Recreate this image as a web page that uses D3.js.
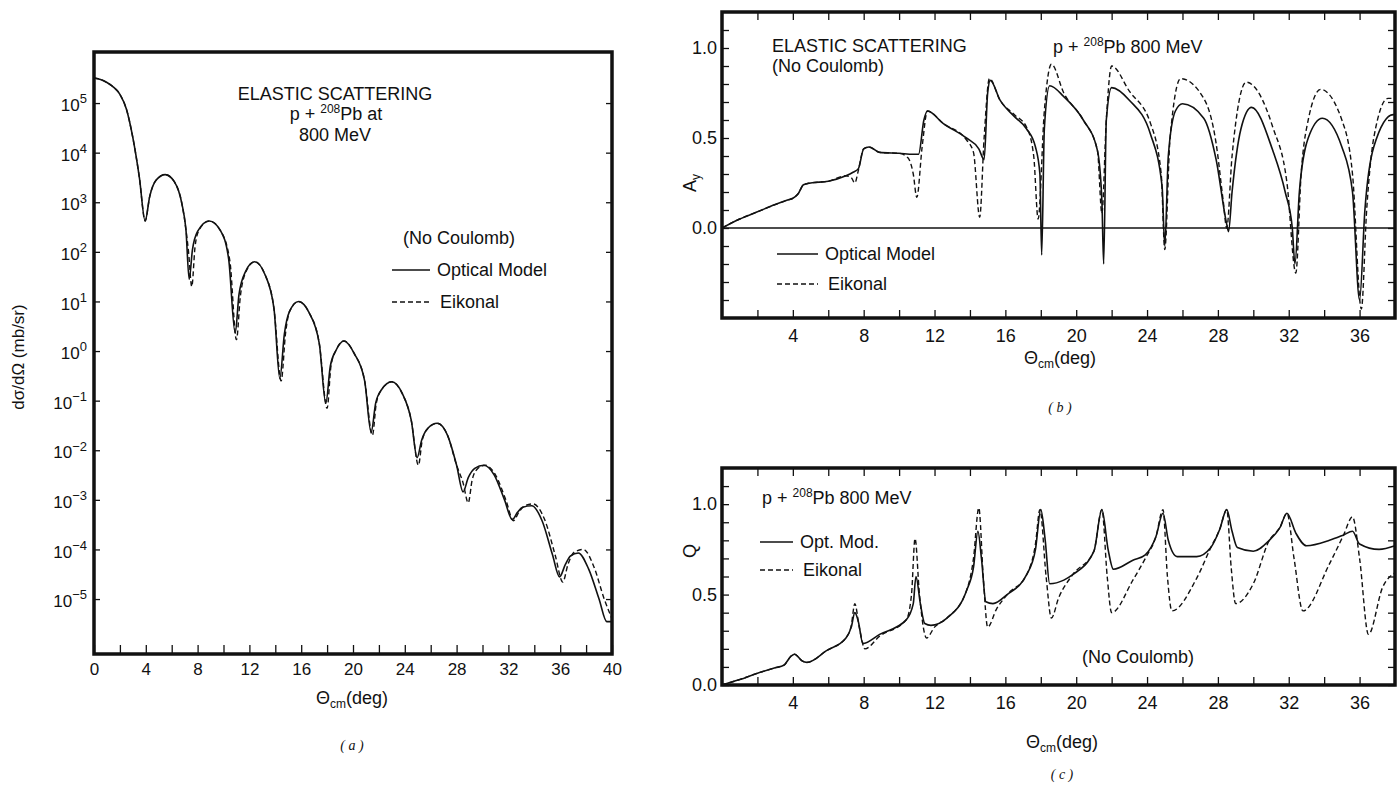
<!DOCTYPE html>
<html>
<head>
<meta charset="utf-8">
<script src="https://cdn.jsdelivr.net/npm/d3@7"></script>
<style>
body { margin: 0; background: #fff; }
svg text { font-family: "Liberation Sans", Arial, sans-serif; fill: #111; }
</style>
</head>
<body>
<svg id="chart" width="1399" height="789"></svg>
<script>
// ---- data ----
// (a) elastic cross section dσ/dΩ (mb/sr) vs θcm (deg)
const sigmaOptical = [
[0,3.2e5],[0.5,3.0e5],[1,2.6e5],[1.5,2.1e5],[2,1.5e5],[2.5,7.6e4],[3,2.0e4],[3.5,3.2e3],[3.95,4.2e2],
[4.3,1.3e3],[4.8,2.8e3],[5.5,3.6e3],[6.2,2.6e3],[6.8,9.0e2],[7.1,2.8e2],[7.35,28],[7.6,110],[8,260],
[8.9,420],[9.8,260],[10.4,71],[10.9,2.3],[11.2,14],[11.7,40],[12.4,63],[13.2,35],[13.9,7.1],[14.35,0.28],
[14.7,2.2],[15.1,6.3],[15.8,10],[16.6,6.0],[17.4,1.4],[17.9,0.089],[18.25,0.5],[18.7,1.05],[19.3,1.6],
[20.1,0.89],[20.9,0.25],[21.4,0.023],[21.75,0.089],[22.2,0.166],[23,0.24],[23.8,0.14],[24.5,0.04],
[24.95,7.1e-3],[25.3,0.016],[25.8,0.028],[26.5,0.035],[27.3,0.02],[28,5.0e-3],[28.5,1.45e-3],[28.9,2.8e-3],
[29.4,4.3e-3],[30.1,5.0e-3],[30.9,3.2e-3],[31.7,1.0e-3],[32.3,4.0e-4],[32.7,5.6e-4],[33.1,7.1e-4],
[33.8,7.6e-4],[34.6,3.8e-4],[35.4,7.9e-5],[35.95,2.8e-5],[36.4,5.0e-5],[36.8,7.4e-5],[37.4,8.5e-5],
[38.2,4.0e-5],[39,1.0e-5],[39.6,3.5e-6],[40,3.5e-6]
];
const sigmaEikonal = [
[0,3.2e5],[0.5,3.0e5],[1,2.6e5],[1.5,2.1e5],[2,1.5e5],[2.5,7.6e4],[3,2.0e4],[3.5,3.2e3],[3.95,4.2e2],
[4.3,1.3e3],[4.8,2.8e3],[5.5,3.6e3],[6.2,2.6e3],[6.8,9.0e2],[7.1,2.8e2],[7.3,100],[7.55,20],[7.8,125],[8.1,270],
[8.9,420],[9.8,260],[10.5,63],[11.0,1.7],[11.3,12.6],[11.7,38],[12.4,63],[13.2,35],[13.9,7.1],[14.45,0.25],
[14.8,2.4],[15.1,6.3],[15.8,10],[16.6,6.0],[17.4,1.4],[18.0,0.07],[18.3,0.5],[18.7,1.05],[19.3,1.6],
[20.1,0.89],[20.9,0.25],[21.5,0.02],[21.8,0.089],[22.2,0.166],[23,0.24],[23.8,0.14],[24.5,0.04],
[25.05,5.0e-3],[25.35,0.016],[25.8,0.028],[26.5,0.035],[27.3,0.02],[28,5.0e-3],[28.5,2.2e-3],[28.9,8.7e-4],
[29.2,2.5e-3],[29.6,4.2e-3],[30.2,5.0e-3],[31.0,3.2e-3],[31.8,1.0e-3],[32.4,3.8e-4],[32.8,5.6e-4],[33.2,7.4e-4],
[33.9,8.3e-4],[34.8,4.0e-4],[35.6,7.9e-5],[36.2,2.2e-5],[36.6,5.0e-5],[37.1,8.9e-5],[37.8,1.0e-4],
[38.6,4.5e-5],[39.4,1.0e-5],[40,4.0e-6]
];
const thetaTicksA = [0,4,8,12,16,20,24,28,32,36,40];
const sigmaTicks = [1e5,1e4,1e3,1e2,1e1,1e0,1e-1,1e-2,1e-3,1e-4,1e-5];

// (b) analysing power Ay vs θcm (deg)
const ayOptical = [
[0,0],[1,0.05],[2,0.09],[3,0.13],[3.7,0.155],[4,0.165],[4.3,0.19],[4.6,0.24],[5,0.25],[6,0.26],[7,0.29],
[7.4,0.31],[7.7,0.33],[8,0.44],[8.3,0.45],[8.9,0.42],[10,0.415],[10.8,0.41],[11.1,0.41],[11.4,0.6],[11.6,0.65],
[12.5,0.58],[13.8,0.5],[14.5,0.44],[14.8,0.38],[15,0.75],[15.15,0.82],[15.7,0.71],[16.5,0.62],[17.2,0.55],
[17.7,0.45],[17.95,0.3],[18.05,-0.15],[18.2,0.55],[18.5,0.79],[19.3,0.73],[20.4,0.6],[21.2,0.43],[21.45,0.15],
[21.55,-0.2],[21.7,0.6],[22,0.78],[23,0.71],[24.2,0.52],[24.85,0.23],[25,-0.1],[25.2,0.4],[25.6,0.65],[26,0.69],
[27.2,0.61],[27.9,0.38],[28.5,0.02],[28.6,-0.02],[28.8,0.2],[29.3,0.55],[29.9,0.67],[31.1,0.43],[31.8,0.2],
[32.2,0],[32.35,-0.2],[32.6,0.2],[33.1,0.5],[33.9,0.61],[35,0.45],[35.6,0.2],[36,-0.4],[36.3,0.1],[36.8,0.45],
[37.9,0.63],[38,0.63]
];
const ayEikonal = [
[0,0],[1,0.05],[2,0.09],[3,0.13],[3.7,0.155],[4,0.165],[4.3,0.19],[4.6,0.24],[5,0.25],[6,0.26],[7,0.29],
[7.3,0.28],[7.5,0.25],[7.7,0.32],[8,0.44],[8.3,0.45],[8.9,0.42],[10,0.415],[10.5,0.39],[10.8,0.3],[11,0.17],
[11.3,0.45],[11.6,0.65],[12.5,0.58],[13.8,0.49],[14.2,0.42],[14.55,0.06],[14.8,0.5],[15.1,0.83],[15.7,0.71],
[16.5,0.63],[17.2,0.56],[17.6,0.4],[17.85,0.05],[18.2,0.65],[18.6,0.91],[19.3,0.75],[20.4,0.6],[21.2,0.43],
[21.45,0.08],[21.7,0.6],[22,0.9],[23,0.76],[24.2,0.58],[24.8,0.3],[25,-0.12],[25.3,0.5],[25.9,0.83],[27.2,0.72],
[27.9,0.47],[28.3,0.15],[28.5,0],[28.8,0.4],[29.6,0.81],[31.1,0.56],[31.9,0.25],[32.4,-0.25],[32.7,0.3],
[33.1,0.6],[33.8,0.77],[35,0.6],[35.6,0.3],[36.1,-0.45],[36.4,0.1],[36.8,0.5],[37.6,0.72],[38,0.72]
];

// (c) spin rotation Q vs θcm (deg)
const qOptical = [
[0,0],[1,0.03],[2,0.065],[3,0.095],[3.5,0.11],[3.9,0.16],[4.1,0.17],[4.5,0.135],[4.8,0.125],[5.9,0.19],
[7,0.26],[7.3,0.32],[7.5,0.4],[7.7,0.35],[7.95,0.23],[8.9,0.28],[10.4,0.36],[10.8,0.45],[10.95,0.6],[11.2,0.45],
[11.45,0.34],[11.8,0.33],[12.7,0.37],[13.8,0.52],[14.2,0.65],[14.45,0.85],[14.65,0.7],[14.9,0.46],[15.3,0.45],
[16.1,0.5],[17.2,0.61],[17.7,0.75],[18,0.97],[18.25,0.8],[18.5,0.56],[19.3,0.58],[19.8,0.61],[21,0.74],
[21.45,0.97],[21.8,0.75],[22.1,0.64],[23.2,0.69],[23.9,0.72],[24.5,0.82],[24.9,0.95],[25.2,0.8],[25.7,0.71],
[26.8,0.71],[27.6,0.76],[28.1,0.86],[28.5,0.97],[28.8,0.85],[29.1,0.76],[30,0.74],[30.9,0.8],[31.5,0.87],
[31.9,0.95],[32.4,0.84],[33,0.77],[34.3,0.8],[35.1,0.83],[35.6,0.85],[36,0.78],[37.1,0.75],[38,0.77]
];
const qEikonal = [
[0,0],[1,0.03],[2,0.065],[3,0.095],[3.5,0.11],[3.9,0.16],[4.1,0.17],[4.5,0.135],[4.8,0.125],[5.9,0.19],
[7,0.26],[7.3,0.33],[7.5,0.45],[7.75,0.32],[8.07,0.2],[8.9,0.27],[10.4,0.36],[10.7,0.5],[10.9,0.81],[11.15,0.5],
[11.55,0.26],[12,0.32],[12.7,0.37],[13.8,0.52],[14.2,0.7],[14.5,0.98],[14.75,0.6],[15,0.32],[15.5,0.42],
[16.1,0.5],[17.2,0.61],[17.7,0.78],[17.95,0.97],[18.3,0.6],[18.6,0.37],[19,0.48],[19.8,0.61],[21,0.74],
[21.45,0.97],[21.75,0.6],[22,0.4],[23.2,0.58],[23.9,0.7],[24.5,0.82],[24.9,0.97],[25.15,0.6],[25.4,0.41],
[26.8,0.59],[27.6,0.76],[28.1,0.86],[28.5,0.97],[28.75,0.65],[29,0.45],[30,0.56],[30.9,0.8],[31.5,0.87],
[31.9,0.95],[32.3,0.7],[32.8,0.41],[34.3,0.67],[35.1,0.83],[35.6,0.93],[36,0.7],[36.5,0.28],[37.3,0.54],[38,0.62]
];
const thetaTicksBC = [4,8,12,16,20,24,28,32,36];
const unitTicks = [0, 0.5, 1.0];

// ---- helpers ----
const svg = d3.select("#chart");
const ink = "#111";
const solidW = 1.6, dashW = 1.4, dashes = "5,3";

function frame(g, w, h) {
g.append("rect")
.attr("width", w).attr("height", h)
.attr("fill", "none").attr("stroke", ink).attr("stroke-width", 3.5);
}

function curve(g, data, x, y, dashed) {
const line = d3.line()
.x(d => x(d[0]))
.y(d => y(d[1]))
.curve(d3.curveMonotoneX);
g.append("path")
.attr("d", line(data))
.attr("fill", "none")
.attr("stroke", ink)
.attr("stroke-width", dashed ? dashW : solidW)
.attr("stroke-dasharray", dashed ? dashes : null)
.attr("stroke-linejoin", "round");
}

// d3 axis sets font-size 10 on its group, so size is applied afterwards
function cleanAxis(a, size) {
a.select(".domain").remove();
a.attr("font-size", size || 18);
a.selectAll(".tick line").attr("stroke", ink).attr("stroke-width", 1.3);
a.selectAll(".tick text").attr("fill", ink);
}

function legendRow(g, x, y, len, label, dashed, size) {
g.append("line")
.attr("x1", x).attr("x2", x + len).attr("y1", y).attr("y2", y)
.attr("stroke", ink).attr("stroke-width", dashed ? dashW : solidW)
.attr("stroke-dasharray", dashed ? "5,3" : null);
g.append("text")
.attr("x", x + len + (dashed ? 10 : 7)).attr("y", y)
.attr("dy", "0.35em").attr("font-size", size).text(label);
}

// Θcm(deg) axis title
function thetaTitle(cx, cy) {
const t = svg.append("text").attr("x", cx).attr("y", cy)
.attr("text-anchor", "middle").attr("font-size", 18);
t.append("tspan").text("Θ");
t.append("tspan").attr("font-size", 12).attr("dy", 4).text("cm");
t.append("tspan").attr("dy", -4).text("(deg)");
}

// p + 208Pb ...
function reaction(x, y, tail, anchor) {
const t = svg.append("text").attr("x", x).attr("y", y)
.attr("text-anchor", anchor || "start").attr("font-size", 18);
t.append("tspan").text("p + ");
t.append("tspan").attr("font-size", 12).attr("dy", -7).text("208");
t.append("tspan").attr("dy", 7).text("Pb" + tail);
}

function panelTag(cx, cy, letter) {
svg.append("text").attr("x", cx).attr("y", cy)
.attr("text-anchor", "middle")
.style("font-family", "'Liberation Serif', serif")
.style("font-style", "italic")
.attr("font-size", 14)
.text("( " + letter + " )");
}

// ================= (a) =================
const A = { left: 94, top: 52, width: 518, height: 602 };
const gA = svg.append("g").attr("transform", `translate(${A.left},${A.top})`);

const xA = d3.scaleLinear().domain([0, 40]).range([0, A.width]);
const yA = d3.scaleLog().domain([7.8e-7, 1.07e6]).range([A.height, 0]);

const axA = gA.append("g")
.attr("transform", `translate(0,${A.height})`)
.call(d3.axisBottom(xA)
.tickValues(d3.range(0, 41, 2))
.tickSize(-9).tickPadding(9)
.tickFormat(d => thetaTicksA.includes(d) ? d : ""));
cleanAxis(axA, 17);

const ayAxis = gA.append("g")
.call(d3.axisLeft(yA).tickValues(sigmaTicks).tickSize(-6).tickPadding(7).tickFormat(""));
cleanAxis(ayAxis, 17);
ayAxis.selectAll(".tick text").each(function(d) {
const e = Math.round(Math.log10(d));
const t = d3.select(this).text(null).attr("dy", "0.45em");
t.append("tspan").text("10");
t.append("tspan").attr("dy", "-0.6em").attr("font-size", 13)
.text(e < 0 ? "\u2212" + (-e) : e);
});

const ayRight = gA.append("g")
.attr("transform", `translate(${A.width},0)`)
.call(d3.axisRight(yA).tickValues(sigmaTicks).tickSize(-6).tickFormat(""));
cleanAxis(ayRight);

curve(gA, sigmaEikonal, xA, yA, true);
curve(gA, sigmaOptical, xA, yA, false);
frame(gA, A.width, A.height);

svg.append("text")
.attr("transform", "translate(24,357) rotate(-90)")
.attr("text-anchor", "middle").attr("font-size", 17)
.text("dσ/dΩ (mb/sr)");

svg.append("text").attr("x", 335).attr("y", 100)
.attr("text-anchor", "middle").attr("font-size", 18).text("ELASTIC SCATTERING");
reaction(336, 120, " at", "middle");
svg.append("text").attr("x", 335).attr("y", 141)
.attr("text-anchor", "middle").attr("font-size", 18).text("800 MeV");

svg.append("text").attr("x", 403).attr("y", 244).attr("font-size", 18).text("(No Coulomb)");
legendRow(svg, 392, 270, 38, "Optical Model", false, 18);
legendRow(svg, 392, 302, 38, "Eikonal", true, 18);

thetaTitle(352, 704);
panelTag(352, 750, "a");

// ================= (b) =================
const B = { left: 722, top: 12, width: 673, height: 306 };
const gB = svg.append("g").attr("transform", `translate(${B.left},${B.top})`);

const xB = d3.scaleLinear().domain([0, 38]).range([0, B.width]);
const yB = d3.scaleLinear().domain([-0.5, 1.2]).range([B.height, 0]);

const tenths = d3.range(-5, 13).map(i => i / 10);
const evenDeg = d3.range(2, 38, 2);

function unitAxes(g, x, y, w, h, yTicks) {
const bx = g.append("g").attr("transform", `translate(0,${h})`)
.call(d3.axisBottom(x).tickValues(evenDeg).tickSize(-8).tickPadding(11)
.tickFormat(d => thetaTicksBC.includes(d) ? d : ""));
cleanAxis(bx, 18);
const tx = g.append("g")
.call(d3.axisTop(x).tickValues(evenDeg).tickSize(-8).tickFormat(""));
cleanAxis(tx);
const ly = g.append("g")
.call(d3.axisLeft(y).tickValues(yTicks).tickSize(-7).tickPadding(5)
.tickFormat(d => unitTicks.some(u => Math.abs(u - d) < 1e-9) ? d3.format(".1f")(d) : ""));
cleanAxis(ly, 18);
const ry = g.append("g").attr("transform", `translate(${w},0)`)
.call(d3.axisRight(y).tickValues(yTicks).tickSize(-7).tickFormat(""));
cleanAxis(ry);
}

unitAxes(gB, xB, yB, B.width, B.height, tenths.filter(d => d > -0.5 && d < 1.2));

gB.append("line")
.attr("x1", 0).attr("x2", B.width)
.attr("y1", yB(0)).attr("y2", yB(0))
.attr("stroke", ink).attr("stroke-width", 1.6);

curve(gB, ayEikonal, xB, yB, true);
curve(gB, ayOptical, xB, yB, false);
frame(gB, B.width, B.height);

const ayLab = svg.append("text")
.attr("transform", "translate(696,183) rotate(-90)")
.attr("text-anchor", "middle").attr("font-size", 18);
ayLab.append("tspan").text("A");
ayLab.append("tspan").attr("font-size", 12).attr("dy", 4).text("y");

svg.append("text").attr("x", 772).attr("y", 52).attr("font-size", 18).text("ELASTIC SCATTERING");
svg.append("text").attr("x", 772).attr("y", 72).attr("font-size", 18).text("(No Coulomb)");
reaction(1053, 53, " 800 MeV");
legendRow(svg, 777, 254, 41, "Optical Model", false, 18);
legendRow(svg, 777, 284, 41, "Eikonal", true, 18);

thetaTitle(1060, 364);
panelTag(1060, 412, "b");

// ================= (c) =================
const C = { left: 722, top: 468, width: 673, height: 217 };
const gC = svg.append("g").attr("transform", `translate(${C.left},${C.top})`);

const xC = d3.scaleLinear().domain([0, 38]).range([0, C.width]);
const yC = d3.scaleLinear().domain([0, 1.2]).range([C.height, 0]);

unitAxes(gC, xC, yC, C.width, C.height, tenths.filter(d => d >= 0 && d < 1.2));

curve(gC, qEikonal, xC, yC, true);
curve(gC, qOptical, xC, yC, false);
frame(gC, C.width, C.height);

svg.append("text")
.attr("transform", "translate(696,551) rotate(-90)")
.attr("text-anchor", "middle").attr("font-size", 18).text("Q");

reaction(762, 504, " 800 MeV");
legendRow(svg, 760, 542, 33, "Opt. Mod.", false, 18);
legendRow(svg, 760, 570, 33, "Eikonal", true, 18);
svg.append("text").attr("x", 1082).attr("y", 663).attr("font-size", 18).text("(No Coulomb)");

thetaTitle(1062, 748);
panelTag(1062, 779, "c");
</script>
</body>
</html>
